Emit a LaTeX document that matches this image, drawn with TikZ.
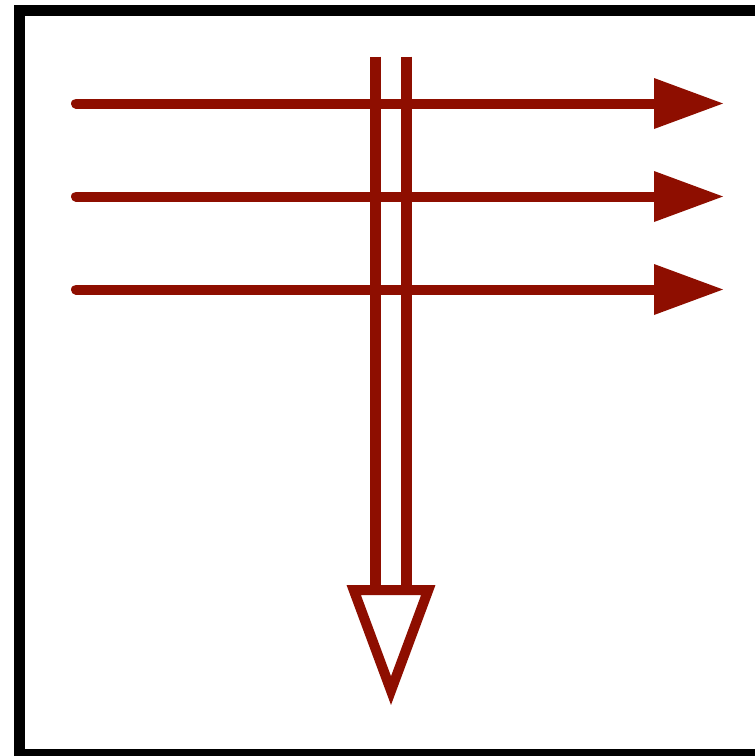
\documentclass[tikz,border=0pt]{standalone}
\definecolor{arrowred}{RGB}{142,14,0}
\begin{document}
\begin{tikzpicture}[x=1pt,y=-1pt,
  flow/.style={draw=arrowred,line width=10pt,line cap=round},
  headfill/.style={fill=arrowred},
  bar/.style={draw=arrowred,line width=10.5pt},
  hollowhead/.style={draw=arrowred,line width=10pt,fill=white,line join=miter}]
\useasboundingbox (0,0) rectangle (755,756);
\clip (0,0) rectangle (755,756);
% frame
\draw[line width=11pt] (19.5,10.5) rectangle (790,754.2);
% horizontal arrows
\foreach \y/\n in {103.5/a,196.5/b,289.5/c}{
  \coordinate (\n s) at (76,\y);
  \coordinate (\n b) at (656,\y);
  \draw[flow] (\n s) -- (\n b);
  \fill[headfill] (654,\y-25.5) -- (723,\y) -- (654,\y+25.5) -- cycle;
}
% vertical double arrow
\coordinate (lt) at (375.5,56.7);
\coordinate (lb) at (375.5,592);
\coordinate (rt) at (406.3,56.7);
\coordinate (rb) at (406.3,592);
\draw[bar] (lt) -- (lb);
\draw[bar] (rt) -- (rb);
\draw[hollowhead] (353.7,590) -- (428.3,590) -- (391,690.6) -- cycle;
\end{tikzpicture}
\end{document}
